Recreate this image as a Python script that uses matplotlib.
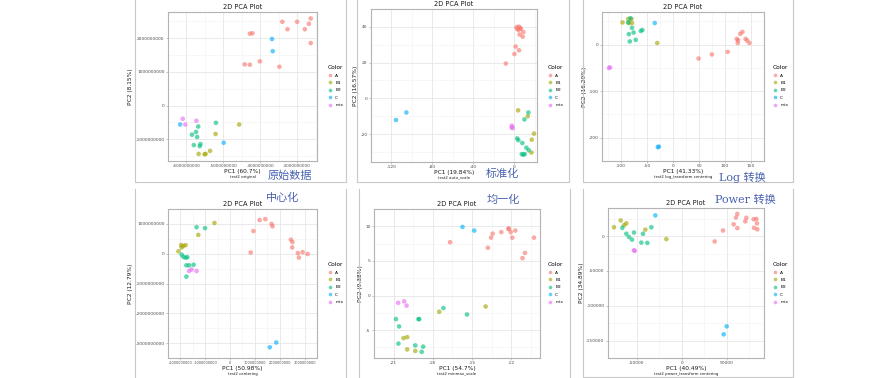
import matplotlib
matplotlib.use("Agg")
import matplotlib.pyplot as plt
from matplotlib.lines import Line2D
import numpy as np

W, H = 893, 378
fig = plt.figure(figsize=(W / 100, H / 100), dpi=100)
fig.patch.set_facecolor("white")

groups = ["A", "B1", "B2", "C", "mix"]
colors = {"A": "#F8766D", "B1": "#A3A500", "B2": "#00BF7D", "C": "#00B0F6", "mix": "#E76BF3"}

# ---------------- data ----------------
# Panel 1: original (units 1e9)
p1_A_x = [-3.40, -3.00, -2.63, -2.68, -3.26, -2.79, -2.63, -4.28, -4.21, -4.01, -4.42, -4.28, -3.48]
p1_A_y = [2.48, 2.48, 2.58, 2.42, 2.26, 2.26, 1.85, 2.13, 2.14, 1.31, 1.22, 1.21, 1.15]
p1_B1_x = [-4.57, -5.21, -5.36, -5.48, -5.51, -5.67]
p1_B1_y = [-0.56, -0.84, -1.34, -1.43, -1.44, -1.43]
p1_B2_x = [-5.74, -5.85, -5.71, -5.80, -5.62, -5.64, -5.68, -5.20]
p1_B2_y = [-0.78, -0.86, -0.93, -1.17, -1.14, -1.20, -0.62, -0.51]
p1_C_x = [-3.68, -3.66, -6.17, -4.99]
p1_C_y = [1.97, 1.61, -0.56, -1.10]
p1_mix_x = [-6.10, -6.03, -5.73]
p1_mix_y = [-0.39, -0.56, -0.45]

# Panel 2: auto_scale
p2_A_x = [2.4, 4.8, 6.0, 4.2, 6.6, 9.0, 5.4, 8.4, 1.5, 4.8, 0.3, -8.1, 3.0]
p2_A_y = [39.8, 40.1, 39.3, 38.2, 38.9, 37.1, 35.7, 34.5, 29.0, 26.9, 24.8, 19.5, 38.9]
p2_B1_x = [3.9, 13.4, 17.3, 19.4, 17.0]
p2_B1_y = [-6.7, -10.0, -23.1, -19.7, -30.3]
p2_B2_x = [14.0, 10.1, 3.0, 4.2, 8.1, 12.0, 14.3, 7.5, 10.4, 9.0]
p2_B2_y = [-7.9, -11.8, -22.4, -23.4, -25.0, -27.6, -29.0, -31.2, -31.2, -31.5]
p2_C_x = [-105.4, -115.5]
p2_C_y = [-7.9, -12.1]
p2_mix_x = [-2.1, -1.5, -2.4]
p2_mix_y = [-15.3, -16.7, -16.2]

# Panel 3: log_transform centering
p3_A_x = [133.6, 129.4, 122.7, 125.1, 139.7, 142.7, 147.0, 124.5, 105.1, 74.8, 49.3]
p3_A_y = [27.2, 23.1, 12.2, 9.5, 12.2, 8.8, 3.4, 3.4, -15.6, -21.1, -29.9]
p3_B1_x = [-97.0, -86.0, -80.0, -78.8, -30.2, -84.8]
p3_B1_y = [47.6, 55.1, 55.1, 46.3, 3.4, 46.3]
p3_B2_x = [-81.8, -86.0, -78.8, -84.8, -75.7, -83.0, -71.5, -61.8, -58.7]
p3_B2_y = [56.5, 47.6, 36.0, 22.4, 25.9, 6.8, 10.2, 29.3, 31.3]
p3_C_x = [-35.0, -27.2, -29.0]
p3_C_y = [46.3, -219.0, -220.4]
p3_mix_x = [-123.0, -121.0]
p3_mix_y = [-50.3, -49.0]

# Panel 4: centering (units 1e9)
p4_A_x = [1.19, 1.42, 1.67, 1.71, 0.94, 0.83, 2.45, 2.51, 2.50, 2.73, 2.77, 2.92, 3.12]
p4_A_y = [1.13, 1.16, 1.00, 0.92, 0.76, 0.04, 0.47, 0.39, 0.21, 0.02, -0.13, 0.05, -0.01]
p4_B1_x = [-0.63, -1.28, -1.97, -1.88, -1.79, -1.95, -2.08]
p4_B1_y = [1.03, 0.63, 0.29, 0.26, 0.29, 0.21, 0.08]
p4_B2_x = [-1.35, -1.01, -1.95, -1.88, -1.79, -1.72, -1.76, -1.65, -1.47, -1.76]
p4_B2_y = [0.89, 0.86, -0.03, -0.11, -0.13, -0.12, -0.39, -0.39, -0.37, -0.77]
p4_C_x = [1.60, 1.86]
p4_C_y = [-3.14, -2.98]
p4_mix_x = [-1.65, -1.55, -1.35]
p4_mix_y = [-0.58, -0.53, -0.58]

# Panel 5: minmax_scale
p5_A_x = [-16.68, -13.79, -13.54, -13.42, -12.76, -12.22, -12.18, -12.04, -11.92, -11.69, -10.95, -11.14, -10.26]
p5_A_y = [7.70, 6.90, 8.36, 8.94, 9.16, 9.60, 9.69, 9.16, 8.36, 9.38, 6.15, 5.40, 8.36]
p5_B1_x = [-17.51, -13.96, -20.24, -19.96, -19.96, -19.34]
p5_B1_y = [-2.35, -1.59, -6.15, -6.02, -7.79, -8.01]
p5_B2_x = [-17.19, -15.39, -19.04, -19.10, -20.82, -20.58, -20.63, -19.34, -18.74, -18.85]
p5_B2_y = [-1.81, -2.74, -3.41, -3.41, -3.41, -4.47, -6.95, -7.21, -7.39, -8.14]
p5_C_x = [-15.73, -14.83]
p5_C_y = [9.91, 9.38]
p5_mix_x = [-20.65, -20.19, -20.01]
p5_mix_y = [-1.06, -0.84, -1.46]

# Panel 6: power_transform centering
p6_A_x = [61852, 60370, 57778, 61852, 71852, 70741, 80000, 82963, 83704, 80370, 84074, 45926, 36667]
p6_A_y = [31860, 26762, 16992, 11470, 26338, 21240, 24214, 24639, 18267, 11895, 9771, 8071, -7647]
p6_B1_x = [-75185, -67778, -64074, -61481, -40370, -17037]
p6_B1_y = [12744, 22515, 15718, 18267, 9346, -4248]
p6_B2_x = [-65926, -61481, -58519, -55185, -52963, -44815, -42963, -38148, -33704]
p6_B2_y = [11895, 3398, -1274, -5098, 5098, -9346, 3398, -9771, 12744]
p6_C_x = [-29259, 50000, 46667]
p6_C_y = [29737, -129567, -141037]
p6_mix_x = [-52963, -52222]
p6_mix_y = [-20391, -21240]

# tick values / labels
p1_xticks = [-6, -5, -4, -3]
p1_xlabels = ["-6000000000", "-5000000000", "-4000000000", "-3000000000"]
p1_yticks = [-1, 0, 1, 2]
p1_ylabels = ["-1000000000", "0", "1000000000", "2000000000"]
p2_xticks = [-120, -80, -40, 0]
p2_yticks = [-20, 0, 20, 40]
p3_xticks = [-100, -50, 0, 50, 100, 150]
p3_yticks = [-200, -100, 0]
p4_xticks = [-2, -1, 0, 1, 2, 3]
p4_xlabels = ["-2000000000", "-1000000000", "0", "1000000000", "2000000000", "3000000000"]
p4_yticks = [-3, -2, -1, 0, 1]
p4_ylabels = ["-3000000000", "-2000000000", "-1000000000", "0", "1000000000"]
p5_xticks = [-21, -18, -15, -12]
p5_yticks = [-5, 0, 5, 10]
p6_xticks = [-50000, 0, 50000]
p6_yticks = [-150000, -100000, -50000, 0]

panels = [
    dict(rect=(168, 12, 317, 161), xlim=(-6.35, -2.46), ylim=(-1.64, 2.77),
         data=[(p1_A_x, p1_A_y), (p1_B1_x, p1_B1_y), (p1_B2_x, p1_B2_y), (p1_C_x, p1_C_y), (p1_mix_x, p1_mix_y)],
         xt=p1_xticks, xl=p1_xlabels, yt=p1_yticks, yl=p1_ylabels, xfs=3.0,
         xlab="PC1 (60.7%)", ylab="PC2 (8.15%)", cap="test2 original",
         leg=(325, 62), cn="原始数据", cnpos=(290, 176)),
    dict(rect=(371, 9, 537, 162), xlim=(-126, 22.4), ylim=(-35.6, 45.1),
         data=[(p2_A_x, p2_A_y), (p2_B1_x, p2_B1_y), (p2_B2_x, p2_B2_y), (p2_C_x, p2_C_y), (p2_mix_x, p2_mix_y)],
         xt=p2_xticks, xl=[str(v) for v in p2_xticks], yt=p2_yticks, yl=[str(v) for v in p2_yticks], xfs=3.2,
         xlab="PC1 (19.84%)", ylab="PC2 (16.57%)", cap="test2 auto_scale",
         leg=(545, 62), cn="标准化", cnpos=(502, 174)),
    dict(rect=(602, 12, 764, 161), xlim=(-136.4, 159.7), ylim=(-234.7, 70),
         data=[(p3_A_x, p3_A_y), (p3_B1_x, p3_B1_y), (p3_B2_x, p3_B2_y), (p3_C_x, p3_C_y), (p3_mix_x, p3_mix_y)],
         xt=p3_xticks, xl=[str(v) for v in p3_xticks], yt=p3_yticks, yl=[str(v) for v in p3_yticks], xfs=3.2,
         xlab="PC1 (41.33%)", ylab="PC2 (16.29%)", cap="test2 log_transform centering",
         leg=(770, 62), cn="Log 转换", cnpos=(742, 177)),
    dict(rect=(168, 209, 317, 358), xlim=(-2.33, 3.37), ylim=(-3.35, 1.35),
         data=[(p4_A_x, p4_A_y), (p4_B1_x, p4_B1_y), (p4_B2_x, p4_B2_y), (p4_C_x, p4_C_y), (p4_mix_x, p4_mix_y)],
         xt=p4_xticks, xl=p4_xlabels, yt=p4_yticks, yl=p4_ylabels, xfs=2.5,
         xlab="PC1 (50.98%)", ylab="PC2 (12.79%)", cap="test2 centering",
         leg=(325, 259), cn="中心化", cnpos=(283, 198)),
    dict(rect=(374, 209, 540, 358), xlim=(-21.28, -9.80), ylim=(-9.03, 10.71),
         data=[(p5_A_x, p5_A_y), (p5_B1_x, p5_B1_y), (p5_B2_x, p5_B2_y), (p5_C_x, p5_C_y), (p5_mix_x, p5_mix_y)],
         xt=p5_xticks, xl=[str(v) for v in p5_xticks], yt=p5_yticks, yl=[str(v) for v in p5_yticks], xfs=3.2,
         xlab="PC1 (54.7%)", ylab="PC2 (9.38%)", cap="test2 minmax_scale",
         leg=(545, 259), cn="均一化", cnpos=(503, 200)),
    dict(rect=(608, 208, 764, 358), xlim=(-81852, 91481), ylim=(-150000, 40357),
         data=[(p6_A_x, p6_A_y), (p6_B1_x, p6_B1_y), (p6_B2_x, p6_B2_y), (p6_C_x, p6_C_y), (p6_mix_x, p6_mix_y)],
         xt=p6_xticks, xl=[str(v) for v in p6_xticks], yt=p6_yticks, yl=[str(v) for v in p6_yticks], xfs=3.2,
         xlab="PC1 (40.49%)", ylab="PC2 (34.89%)", cap="test2 power_transform centering",
         leg=(770, 259), cn="Power 转换", cnpos=(745, 200)),
]

def fx(x):
    return x / W

def fy(y):
    return 1 - y / H

# panel frames (light gray boxes)
frames = [
    (135, -2, 346, 182), (357, -2, 569, 182), (583, -2, 793, 182),
    (135, 189, 346, 380), (359, 189, 570, 380), (583, 189, 793, 377),
]
for (x0, y0, x1, y1) in frames:
    fig.add_artist(Line2D([fx(x0), fx(x0), fx(x1), fx(x1)], [fy(y0), fy(y1), fy(y1), fy(y0)],
                          color="#c8c8c8", lw=0.8, transform=fig.transFigure))

for p in panels:
    x0, y0, x1, y1 = p["rect"]
    ax = fig.add_axes([fx(x0), fy(y1), (x1 - x0) / W, (y1 - y0) / H])
    ax.set_facecolor("white")
    ax.set_xlim(*p["xlim"])
    ax.set_ylim(*p["ylim"])
    ax.set_xticks(p["xt"])
    ax.set_xticklabels(p["xl"])
    ax.set_yticks(p["yt"])
    ax.set_yticklabels(p["yl"])
    xt = p["xt"]; yt = p["yt"]
    dx = (xt[1] - xt[0]) / 2; dy = (yt[1] - yt[0]) / 2
    ax.set_xticks([v - dx for v in xt] + [xt[-1] + dx], minor=True)
    ax.set_yticks([v - dy for v in yt] + [yt[-1] + dy], minor=True)
    ax.grid(which="major", color="#e6e6e6", lw=0.6)
    ax.grid(which="minor", color="#f2f2f2", lw=0.4)
    ax.set_axisbelow(True)
    ax.tick_params(which="major", labelsize=3.2, length=1.5, width=0.4, color="#999999",
                   labelcolor="#4d4d4d", pad=1)
    ax.tick_params(axis="x", which="major", labelsize=p["xfs"])
    ax.tick_params(which="minor", length=0)
    for s in ax.spines.values():
        s.set_color("#b3b3b3")
        s.set_linewidth(0.8)
    for g, (xs, ys) in zip(groups, p["data"]):
        ax.scatter(xs, ys, s=11, color=colors[g], alpha=0.62, edgecolors="none", zorder=3)
    ax.set_title("2D PCA Plot", fontsize=4.8, pad=2, color="#1a1a1a")
    ax.set_xlabel(p["xlab"], fontsize=4.2, labelpad=0.5, color="#1a1a1a")
    ax.set_ylabel(p["ylab"], fontsize=4.2, labelpad=1.5, color="#1a1a1a")
    # caption under x label
    fig.text(fx((x0 + x1) / 2), fy(y1 + 15.5), p["cap"], fontsize=2.8, ha="center", va="center", color="#1a1a1a")
    # legend
    handles = [Line2D([], [], marker="o", ls="none", markersize=2.6, color=colors[g], alpha=0.62,
                      markeredgewidth=0) for g in groups]
    lg = ax.legend(handles, groups, title="Color", loc="upper left",
                   bbox_to_anchor=(fx(p["leg"][0]), fy(p["leg"][1])), bbox_transform=fig.transFigure,
                   frameon=False, fontsize=3.2, title_fontsize=4.2, handlelength=1.0,
                   handletextpad=0.6, labelspacing=0.75, borderpad=0.2)
    lg._legend_box.align = "left"
    # Chinese annotation
    fig.text(fx(p["cnpos"][0]), fy(p["cnpos"][1]), p["cn"], fontsize=8, ha="center", va="center",
             color="#4a62b0", family=["DejaVu Serif", "Noto Sans CJK SC"])

fig.savefig("out.png", dpi=100, facecolor="white")
